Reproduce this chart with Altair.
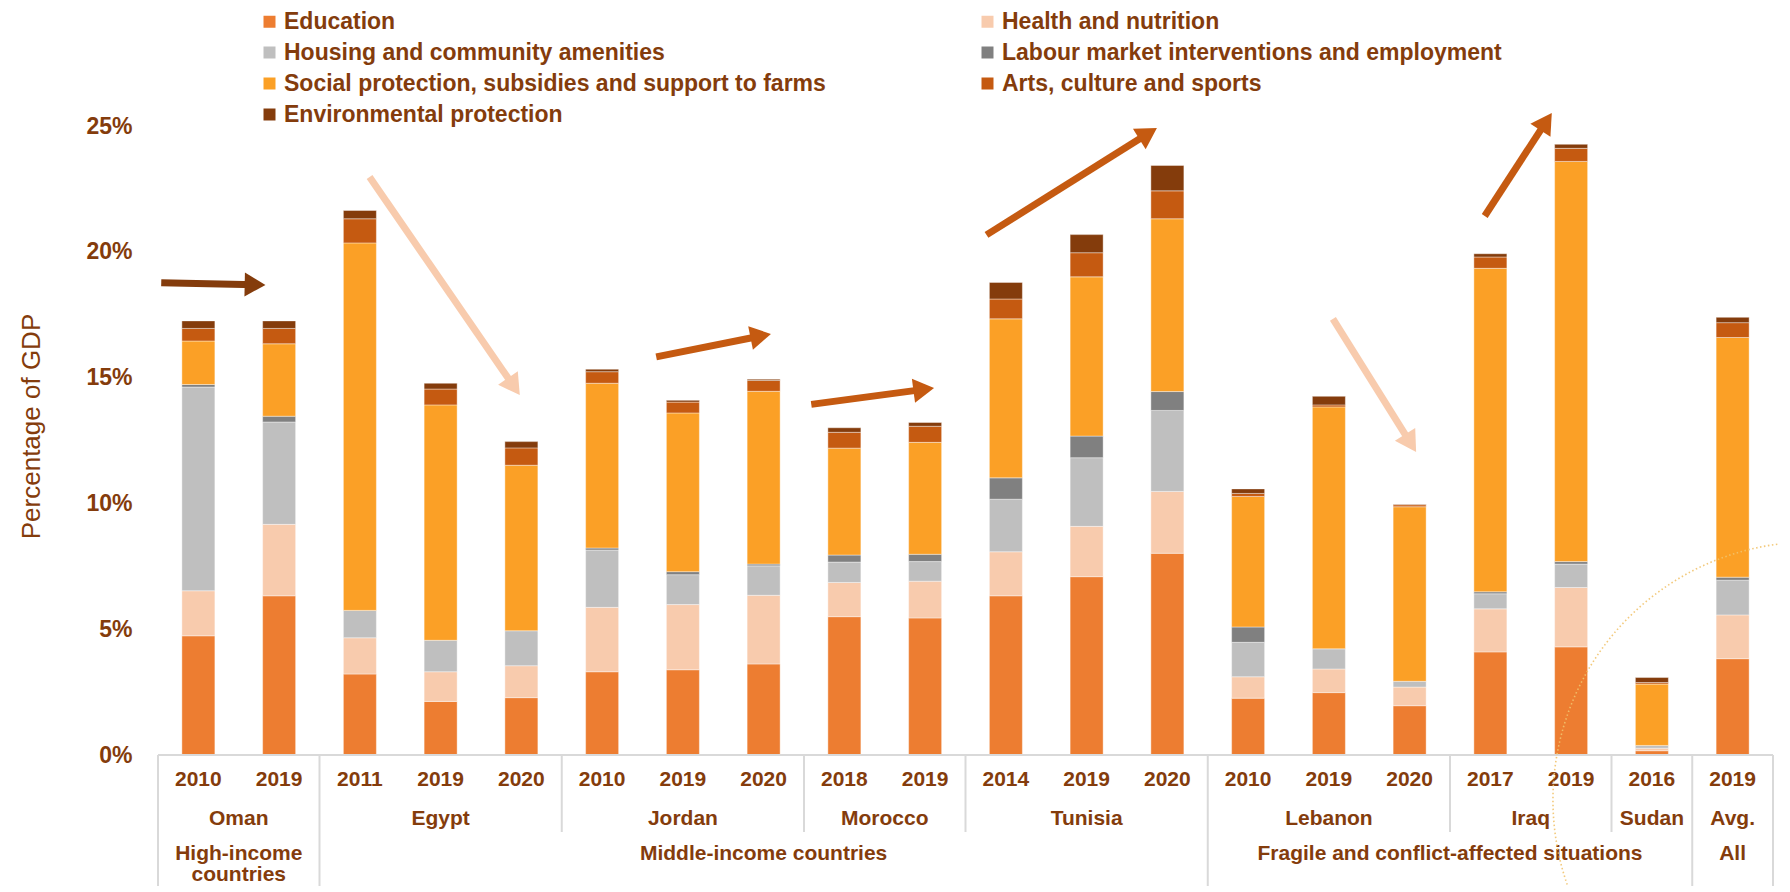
import math
import altair as alt
import pandas as pd

# ---------------- data ----------------
categories = [
    "Education",
    "Health and nutrition",
    "Housing and community amenities",
    "Labour market interventions and employment",
    "Social protection, subsidies and support to farms",
    "Arts, culture and sports",
    "Environmental protection",
]
colors = ["#ed7d31", "#f8cbad", "#bfbfbf", "#808080", "#fba026", "#c55a11", "#843c0c"]

years = ["2010", "2019", "2011", "2019", "2020", "2010", "2019", "2020", "2018", "2019",
         "2014", "2019", "2020", "2010", "2019", "2020", "2017", "2019", "2016", "2019"]
countries = ["Oman", "Oman", "Egypt", "Egypt", "Egypt", "Jordan", "Jordan", "Jordan",
             "Morocco", "Morocco", "Tunisia", "Tunisia", "Tunisia", "Lebanon", "Lebanon",
             "Lebanon", "Iraq", "Iraq", "Sudan", "Avg."]
groups = (["High-income\ncountries"] * 2 + ["Middle-income countries"] * 11
          + ["Fragile and conflict-affected situations"] * 6 + ["All"])

education = [4.74, 6.33, 3.22, 2.13, 2.28, 3.31, 3.39, 3.62, 5.50, 5.45,
             6.33, 7.09, 8.02, 2.26, 2.48, 1.96, 4.10, 4.30, 0.17, 3.83]
health = [1.79, 2.84, 1.44, 1.18, 1.27, 2.56, 2.59, 2.73, 1.36, 1.46,
          1.75, 2.00, 2.46, 0.85, 0.94, 0.74, 1.71, 2.36, 0.10, 1.74]
housing = [8.10, 4.07, 1.09, 1.25, 1.39, 2.28, 1.19, 1.17, 0.81, 0.78,
           2.09, 2.73, 3.22, 1.37, 0.80, 0.23, 0.60, 0.93, 0.11, 1.38]
labour = [0.10, 0.23, 0.00, 0.00, 0.00, 0.08, 0.12, 0.07, 0.28, 0.29,
          0.85, 0.86, 0.75, 0.61, 0.00, 0.00, 0.08, 0.10, 0.00, 0.12]
social = [1.73, 2.88, 14.61, 9.36, 6.58, 6.55, 6.31, 6.87, 4.25, 4.45,
          6.32, 6.33, 6.87, 5.19, 9.62, 6.94, 12.86, 15.91, 2.44, 9.53]
arts = [0.50, 0.61, 0.96, 0.63, 0.69, 0.46, 0.43, 0.43, 0.63, 0.64,
        0.79, 0.96, 1.11, 0.12, 0.08, 0.08, 0.45, 0.52, 0.06, 0.59]
environment = [0.30, 0.30, 0.33, 0.23, 0.25, 0.10, 0.07, 0.05, 0.18, 0.15,
               0.66, 0.72, 1.01, 0.18, 0.34, 0.02, 0.13, 0.16, 0.20, 0.21]

y_ticks = [0, 5, 10, 15, 20, 25]

# trend arrows: start (x, y) -> tip (x, y) in bar-slot / percent units
arrow_x0 = [0.04, 2.62, 6.17, 8.09, 10.26, 14.55, 16.43]
arrow_y0 = [18.78, 22.98, 15.83, 13.94, 20.68, 17.34, 21.43]
arrow_x1 = [1.33, 4.48, 7.59, 9.61, 12.37, 15.58, 17.26]
arrow_y1 = [18.69, 14.31, 16.74, 14.59, 24.93, 12.05, 25.53]
arrow_colors = ["#843c0c", "#f8cbad", "#c55a11", "#c55a11", "#c55a11", "#f8cbad", "#c55a11"]

# decorative dotted circle (bottom-right)
circle_x = [20.47]
circle_y = [-1.79]

# ---------------- layout constants ----------------
W, H = 1625, 747
BOTTOM = 131
Y_MAX = 29.7
N = len(years)
FONT = "Liberation Sans, Arial, Helvetica, sans-serif"
BROWN = "#843c0c"
px_x = W / N
px_y = H / Y_MAX

xscale = alt.Scale(domain=[0, N], nice=False, zero=False)
yscale = alt.Scale(domain=[0, Y_MAX], nice=False)

# ---------------- tables ----------------
series = [education, health, housing, labour, social, arts, environment]
rows = []
for i in range(N):
    for k, (cat, vals) in enumerate(zip(categories, series)):
        if vals[i] > 0:
            rows.append({"pos": i + 0.5, "cat": cat, "k": k, "value": vals[i],
                         "label": f"{countries[i]} {years[i]}"})
bars_df = pd.DataFrame(rows)

pos = [i + 0.5 for i in range(N)]
years_df = pd.DataFrame({"pos": pos, "year": years})


def spans(names):
    out = []
    start = 0
    for i in range(1, N + 1):
        if i == N or names[i] != names[start]:
            out.append((names[start], start, i))
            start = i
    return out


country_spans = spans(countries)
group_spans = spans(groups)
country_df = pd.DataFrame({"pos": [(a + b) / 2 for _, a, b in country_spans],
                           "name": [n for n, _, _ in country_spans]})
group_df = pd.DataFrame({"pos": [(a + b) / 2 for _, a, b in group_spans],
                         "name": [n for n, _, _ in group_spans]})

full_bounds = sorted({0, N} | {a for _, a, _ in group_spans})
short_bounds = sorted({a for _, a, _ in country_spans} - set(full_bounds))
full_df = pd.DataFrame({"x": full_bounds})
short_df = pd.DataFrame({"x": short_bounds})

axis_df = pd.DataFrame({"x0": [0], "x1": [N], "y": [0]})

# arrows -> shaft segments and heads
HEAD_R = 12.0
HEAD_H = math.sqrt(3) * HEAD_R / 2
shaft_rows, head_rows = [], []
for j in range(len(arrow_x0)):
    dx = (arrow_x1[j] - arrow_x0[j]) * px_x
    dy = -(arrow_y1[j] - arrow_y0[j]) * px_y
    L = math.hypot(dx, dy)
    ux, uy = dx / L, dy / L
    cx = arrow_x1[j] - HEAD_H * ux / px_x
    cy = arrow_y1[j] + HEAD_H * uy / px_y
    ang = math.degrees(math.atan2(dy, dx)) % 360
    shaft_rows.append({"id": j, "o": 0, "x": arrow_x0[j], "y": arrow_y0[j], "col": arrow_colors[j]})
    shaft_rows.append({"id": j, "o": 1, "x": cx, "y": cy, "col": arrow_colors[j]})
    head_rows.append({"id": j, "x": cx, "y": cy, "ang": ang, "col": arrow_colors[j]})
shaft_df = pd.DataFrame(shaft_rows)
head_df = pd.DataFrame(head_rows)
circle_df = pd.DataFrame({"x": circle_x, "y": circle_y})

# ---------------- layers ----------------
bars = alt.Chart(bars_df).mark_bar(size=33, stroke="white", strokeWidth=0.4).encode(
    x=alt.X("pos:Q", scale=xscale, axis=None),
    y=alt.Y("value:Q", stack="zero", scale=yscale,
            axis=alt.Axis(values=y_ticks, labelExpr="datum.value + '%'",
                          labelFont=FONT, labelFontSize=23, labelFontWeight="bold",
                          labelColor=BROWN, labelPadding=21, domain=False, ticks=False,
                          grid=False, title="Percentage of GDP", titleFont=FONT,
                          titleFontSize=26, titleFontWeight="normal", titleColor=BROWN,
                          titleAngle=270, titleX=-122, titleY=418, titleAlign="center",
                          titleBaseline="middle")),
    color=alt.Color("cat:N", sort=categories,
                    scale=alt.Scale(domain=categories, range=colors),
                    legend=alt.Legend(title=None, orient="none", legendX=105, legendY=2,
                                      direction="horizontal", columns=2,
                                      symbolType="square", symbolSize=144,
                                      symbolStrokeWidth=0, labelFont=FONT,
                                      labelFontSize=23, labelFontWeight="bold",
                                      labelColor=BROWN, labelOffset=3, rowPadding=7,
                                      columnPadding=150, labelLimit=1000, padding=0)),
    order=alt.Order("k:Q", sort="ascending"),
    tooltip=["label:N", "cat:N", "value:Q"],
)

axis_line = alt.Chart(axis_df).mark_rule(color="#d9d9d9", strokeWidth=2).encode(
    x=alt.X("x0:Q", scale=xscale), x2="x1:Q", y=alt.Y("y:Q", scale=yscale))

full_sep = alt.Chart(full_df).mark_rule(color="#d9d9d9", strokeWidth=2).encode(
    x=alt.X("x:Q", scale=xscale), y=alt.value(H), y2=alt.value(H + BOTTOM))
short_sep = alt.Chart(short_df).mark_rule(color="#d9d9d9", strokeWidth=2).encode(
    x=alt.X("x:Q", scale=xscale), y=alt.value(H), y2=alt.value(H + 77))

year_text = alt.Chart(years_df).mark_text(
    font=FONT, fontSize=21, fontWeight="bold", color=BROWN, baseline="middle").encode(
    x=alt.X("pos:Q", scale=xscale), y=alt.value(772), text="year:N")
country_text = alt.Chart(country_df).mark_text(
    font=FONT, fontSize=21, fontWeight="bold", color=BROWN, baseline="middle").encode(
    x=alt.X("pos:Q", scale=xscale), y=alt.value(811), text="name:N")
group_text = alt.Chart(group_df).mark_text(
    font=FONT, fontSize=21, fontWeight="bold", color=BROWN, baseline="top",
    lineBreak="\n", lineHeight=21).encode(
    x=alt.X("pos:Q", scale=xscale), y=alt.value(835), text="name:N")

shafts = alt.Chart(shaft_df).mark_line(strokeWidth=7, strokeCap="butt").encode(
    x=alt.X("x:Q", scale=xscale), y=alt.Y("y:Q", scale=yscale),
    detail="id:N", order="o:Q",
    stroke=alt.Stroke("col:N", scale=None, legend=None))
heads = alt.Chart(head_df).mark_point(shape="triangle-right", filled=True, size=(2 * HEAD_R) ** 2,
                                      opacity=1, strokeWidth=0).encode(
    x=alt.X("x:Q", scale=xscale), y=alt.Y("y:Q", scale=yscale),
    angle=alt.Angle("ang:Q", scale=None),
    fill=alt.Fill("col:N", scale=None, legend=None))

circle = alt.Chart(circle_df).mark_point(
    shape="circle", filled=False, size=(2 * 258) ** 2, color="#f2c46d",
    strokeWidth=1.6, strokeDash=[1.5, 2.5], opacity=0.9).encode(
    x=alt.X("x:Q", scale=xscale), y=alt.Y("y:Q", scale=yscale))

chart = alt.layer(
    bars, axis_line, full_sep, short_sep, year_text, country_text, group_text,
    shafts, heads, circle,
).properties(
    width=W, height=H,
    autosize=alt.AutoSizeParams(type="none"),
    padding={"left": 145, "right": 0, "top": 0, "bottom": BOTTOM},
).configure(background="white").configure_view(stroke=None)

chart.save("out.html", embed_options={"renderer": "svg", "actions": False})
